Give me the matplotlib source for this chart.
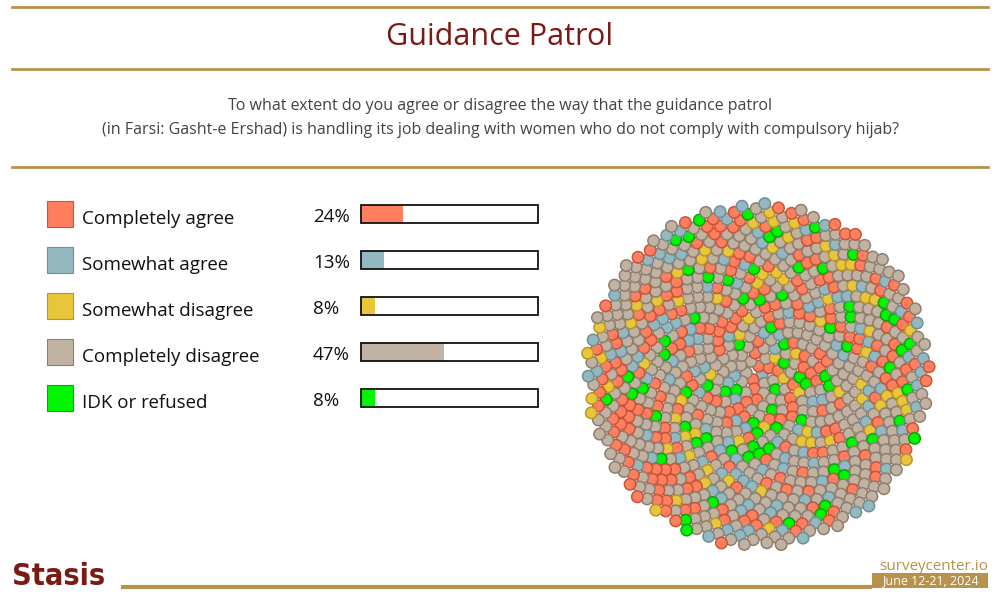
import numpy as np
import matplotlib
matplotlib.use("Agg")
import matplotlib.pyplot as plt
from matplotlib.patches import Rectangle

categories = ["Completely agree", "Somewhat agree", "Somewhat disagree", "Completely disagree", "IDK or refused"]
values = [24, 13, 8, 47, 8]
labels = ["24%", "13%", "8%", "47%", "8%"]
colors = ["#FF7F5E", "#93B8C0", "#E8C53A", "#C2B2A2", "#00F500"]
edges = ["#C8553A", "#6F8F97", "#B8962A", "#8E7E70", "#10A010"]

title = "Guidance Patrol"
question = ("To what extent do you agree or disagree the way that the guidance patrol\n"
            "(in Farsi: Gasht-e Ershad) is handling its job dealing with women who do not comply with compulsory hijab?")

gold = "#B8924A"
fig = plt.figure(figsize=(10, 6), dpi=100)
ax = fig.add_axes([0, 0, 1, 1])
ax.set_xlim(0, 1000); ax.set_ylim(600, 0); ax.axis("off")

for y in (7, 69, 167):
    ax.plot([12, 988], [y, y], color=gold, lw=2)
ax.text(500, 37, title, ha="center", va="center", fontsize=22, color="#7B1A14", family="Open Sans")
ax.text(500, 118, question, ha="center", va="center", fontsize=11.5, color="#444444",
        family="Open Sans", linespacing=1.6)

ys = [214, 260, 306, 352, 398]
for i, (c, v, l) in enumerate(zip(categories, values, labels)):
    y = ys[i]
    ax.add_patch(Rectangle((47, y - 13), 26, 26, facecolor=colors[i], edgecolor=edges[i], lw=0.8))
    ax.text(82, y + 5, c, va="center", fontsize=13.5, family="Open Sans", color="#111111")
    ax.text(313, y + 3, l, va="center", fontsize=13.5, family="Open Sans", color="#111111")
    ax.add_patch(Rectangle((361, y - 9), 177 * v / 100, 18, facecolor=colors[i], edgecolor="none"))
    ax.add_patch(Rectangle((361, y - 9), 177, 18, facecolor="none", edgecolor="#111111", lw=1.3))

# dot circle (deterministic phyllotaxis layout, colors proportional to shares)
N = 940
counts = np.round(np.array(values) / sum(values) * N).astype(int)
idx = np.concatenate([np.full(n, k) for k, n in enumerate(counts)])
N = len(idx)
h = (np.arange(N, dtype=np.uint64) * np.uint64(2654435761) + np.uint64(12345)) % np.uint64(2**32)
h = (h ^ (h >> np.uint64(13))) * np.uint64(1274126177) % np.uint64(2**32)
cidx = idx[np.argsort(h)]
k = np.arange(N)
r = 172 * np.sqrt((k + 0.5) / N)
th = k * np.pi * (3 - np.sqrt(5))
cx, cy = 758, 375
xs = cx + r * np.cos(th); yy = cy + r * np.sin(th)
ax.scatter(xs, yy, s=68, c=[colors[j] for j in cidx], edgecolors=[edges[j] for j in cidx],
           linewidths=1.1, zorder=3)

# footer
ax.text(12, 591, "Stasis", fontsize=22, color="#7B1A14", family="DejaVu Sans",
        fontweight="bold", fontstretch="condensed", va="bottom")
ax.plot([123, 870], [587, 587], color=gold, lw=3)
ax.text(988, 566, "surveycenter.io", ha="right", va="center", fontsize=11, color=gold,
        family="Open Sans")
ax.add_patch(Rectangle((872, 573), 116, 15, facecolor=gold, edgecolor="none"))
ax.text(930, 580.5, "June 12-21, 2024", ha="center", va="center", fontsize=9, color="white",
        family="Open Sans")

fig.savefig("out.png", dpi=100)
